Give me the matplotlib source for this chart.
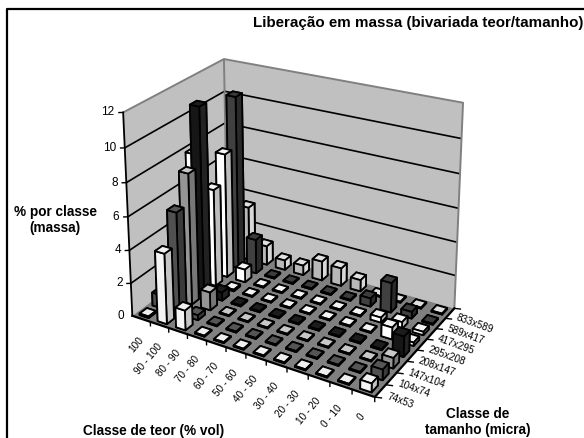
import numpy as np
import matplotlib
matplotlib.use("Agg")
import matplotlib.pyplot as plt
from mpl_toolkits.mplot3d import proj3d
from mpl_toolkits.mplot3d.art3d import Line3DCollection, Poly3DCollection

plt.rcParams['font.family'] = ['Liberation Sans', 'DejaVu Sans']

#---------------------------------------------
# Data
#---------------------------------------------

teor_labels = ['100', '90 - 100', '80 - 90', '70 - 80', '60 - 70', '50 - 60',
               '40 - 50', '30 - 40', '20 - 30', '10 - 20', '0 - 10', '0']
size_labels = ['74x53', '104x74', '147x104', '208x147',
               '295x208', '417x295', '589x417', '833x589']
z_ticks = [0, 2, 4, 6, 8, 10, 12]

s_74x53 = [0.10, 4.25, 1.20, 0.06, 0.06, 0.06, 0.06, 0.06, 0.06, 0.06, 0.06, 0.50]
s_104x74 = [0.80, 6.15, 0.30, 0.06, 0.06, 0.06, 0.06, 0.06, 0.06, 0.06, 0.06, 0.60]
s_147x104 = [0.06, 7.95, 1.10, 0.06, 0.06, 0.06, 0.06, 0.06, 0.06, 0.06, 0.06, 0.60]
s_208x147 = [0.06, 11.4, 0.50, 0.06, 0.06, 0.06, 0.06, 0.06, 0.06, 0.06, 0.06, 1.20]
s_295x208 = [7.90, 6.00, 0.10, 0.06, 0.06, 0.06, 0.06, 0.06, 0.06, 0.06, 0.70, 0.20]
s_417x295 = [0.06, 7.70, 0.80, 0.06, 0.06, 0.06, 0.06, 0.06, 0.06, 0.30, 0.40, 0.20]
s_589x417 = [0.06, 10.75, 2.15, 0.06, 0.06, 0.06, 0.06, 0.06, 0.50, 1.80, 0.40, 0.06]
s_833x589 = [0.06, 3.40, 1.20, 0.60, 0.60, 1.20, 1.10, 0.70, 0.06, 0.06, 0.06, 0.06]
series = [s_74x53, s_104x74, s_147x104, s_208x147, s_295x208, s_417x295, s_589x417, s_833x589]

# top, front, side colour of each series
top_colors = ['#f0f0f0', '#555555', '#c8c8c8', '#1c1c1c', '#f4f4f4', '#f4f4f4', '#3c3c3c', '#e0e0e0']
front_colors = ['#f4f4f4', '#505050', '#959595', '#161616', '#ffffff', '#ffffff', '#404040', '#b8b8b8']
side_colors = ['#c4c4c4', '#3a3a3a', '#777777', '#222222', '#bdbdbd', '#bdbdbd', '#2a2a2a', '#d8d8d8']

#---------------------------------------------
# Figure and view: the camera is fitted on the corners of the chart box
#---------------------------------------------

W, H = 584, 438
fig = plt.figure(figsize=(W / 100, H / 100), dpi=100)
ax = fig.add_axes([0, -1 / 6, 1, 4 / 3], projection='3d', computed_zorder=False)
ax.set_axis_off()
ax.apply_aspect()

nx, ny, zmax = len(teor_labels), len(size_labels), z_ticks[-1]
box_world = np.array([[0, 0, 0], [nx, 0, 0], [nx, ny, 0], [0, ny, 0],
                      [0, 0, zmax], [0, ny, zmax], [nx, ny, zmax]], dtype=float)
box_pixels = np.array([[135, 319], [373, 396], [456, 309], [225, 242],
                       [122, 110], [225, 61], [463, 103]], dtype=float)


def fit_view(world: np.ndarray, pixels: np.ndarray) -> np.ndarray:
    """Find the 4x4 projection that sends world points on the given pixels."""
    uv = ax.transData.inverted().transform(np.c_[pixels[:, 0], H - pixels[:, 1]])
    rows = []
    for (x, y, z), (u, v) in zip(world, uv):
        rows.append([x, y, z, 1, 0, 0, 0, 0, -u * x, -u * y, -u * z, -u])
        rows.append([0, 0, 0, 0, x, y, z, 1, -v * x, -v * y, -v * z, -v])
    h = np.linalg.svd(np.array(rows))[2][-1].reshape(3, 4)
    h = h / (h[2] @ np.array([6, 4, 0, 1]))
    # third row is only used to sort the faces, larger = further from the viewer
    depth = np.array([-1.0, 1.0, -0.5, 0.0])
    return np.array([h[0], h[1], depth, h[2]])


M = fit_view(box_world, box_pixels)
ax.get_proj = lambda: M


def label_at(x, y, z, text, **kwargs):
    """Write 2D text at a 3D position."""
    u, v, _ = proj3d.proj_transform(x, y, z, M)
    ax.text2D(u, v, text, transform=ax.transData, color='black', **kwargs)


#---------------------------------------------
# Walls, floor and grid
#---------------------------------------------

walls = [[(0, 0, 0), (0, ny, 0), (0, ny, zmax), (0, 0, zmax)],
         [(0, ny, 0), (nx, ny, 0), (nx, ny, zmax), (0, ny, zmax)]]
ax.add_collection3d(Poly3DCollection(walls, facecolors='#c0c0c0', edgecolors='none', zorder=1))
floor = [[(0, 0, 0), (nx, 0, 0), (nx, ny, 0), (0, ny, 0)]]
ax.add_collection3d(Poly3DCollection(floor, facecolors='#808080', edgecolors='none', zorder=2))

grid_lines = [[(0, 0, z), (0, ny, z), (nx, ny, z)] for z in z_ticks[1:-1]]
ax.add_collection3d(Line3DCollection(grid_lines, colors='black', linewidths=1.2, zorder=7), autolim=False)
edge_lines = [[(0, 0, zmax), (0, ny, zmax), (nx, ny, zmax), (nx, ny, 0)], [(0, ny, 0), (0, ny, zmax)]]
ax.add_collection3d(Line3DCollection(edge_lines, colors='#808080', linewidths=1.4, zorder=7), autolim=False)

#---------------------------------------------
# Axis lines, ticks and tick labels
#---------------------------------------------

ax.plot([0, 0], [0, 0], [0, zmax], color='black', lw=1.3, zorder=8)
ax.plot([0, nx, nx], [0, 0, ny], [0, 0, 0], color='black', lw=1.6, zorder=8)
for z in z_ticks:
    ax.plot([0, -0.15], [0, -0.10], [z, z], color='black', lw=1.0, zorder=8)
    label_at(-0.33, -0.18, z, str(z), ha='right', va='center', fontsize=8.5)
for i in range(nx + 1):
    ax.plot([i, i], [0, 0], [0, -0.25], color='black', lw=1.0, zorder=8)
for j in range(ny + 1):
    ax.plot([nx, nx + 0.25], [j, j + 0.08], [0, 0], color='black', lw=1.0, zorder=8)
for i, name in enumerate(teor_labels):
    label_at(i + 0.5, 0, -1.2, name, ha='right', va='center', rotation=50,
             rotation_mode='anchor', fontsize=7.2)
for j, name in enumerate(size_labels):
    label_at(nx + 0.3, j + 0.5, -0.15, name, ha='left', va='center', rotation=-20,
             rotation_mode='anchor', fontsize=7.2)

#---------------------------------------------
# Bars, from the back row to the front row
#---------------------------------------------

bar_dx, bar_dy = 0.50, 0.56
order = 10
for j in range(ny - 1, -1, -1):
    # bottom, top, front, back, left, right
    faces = ['#000000', top_colors[j], front_colors[j], '#000000', '#000000', side_colors[j]]
    for i in range(nx):
        ax.bar3d(i + 0.5 - bar_dx / 2, j + 0.5 - bar_dy / 2, 0, bar_dx, bar_dy, series[j][i],
                 color=faces, shade=False, edgecolor='black', linewidth=1.3, zorder=order)
        order += 1

#---------------------------------------------
# Titles and frame
#---------------------------------------------

fig.text(418 / W, 1 - 23 / H, 'Liberação em massa (bivariada teor/tamanho)', ha='center',
         va='center', fontsize=10.9, fontweight='bold')
fig.text(55 / W, 1 - 220 / H, '% por classe\n(massa)', ha='center', va='center',
         fontsize=9.8, fontweight='bold')
fig.text(154 / W, 1 - 431 / H, 'Classe de teor (% vol)', ha='center', va='center',
         fontsize=9.8, fontweight='bold')
fig.text(478 / W, 1 - 422 / H, 'Classe de\ntamanho (micra)', ha='center', va='center',
         fontsize=9.8, fontweight='bold')

frame_x, frame_y = [7 / W, 7 / W, 1], [0, 1 - 9 / H, 1 - 9 / H]
fig.add_artist(plt.Line2D(frame_x, frame_y, color='black', lw=1.6))

fig.savefig('out.png', dpi=100)
